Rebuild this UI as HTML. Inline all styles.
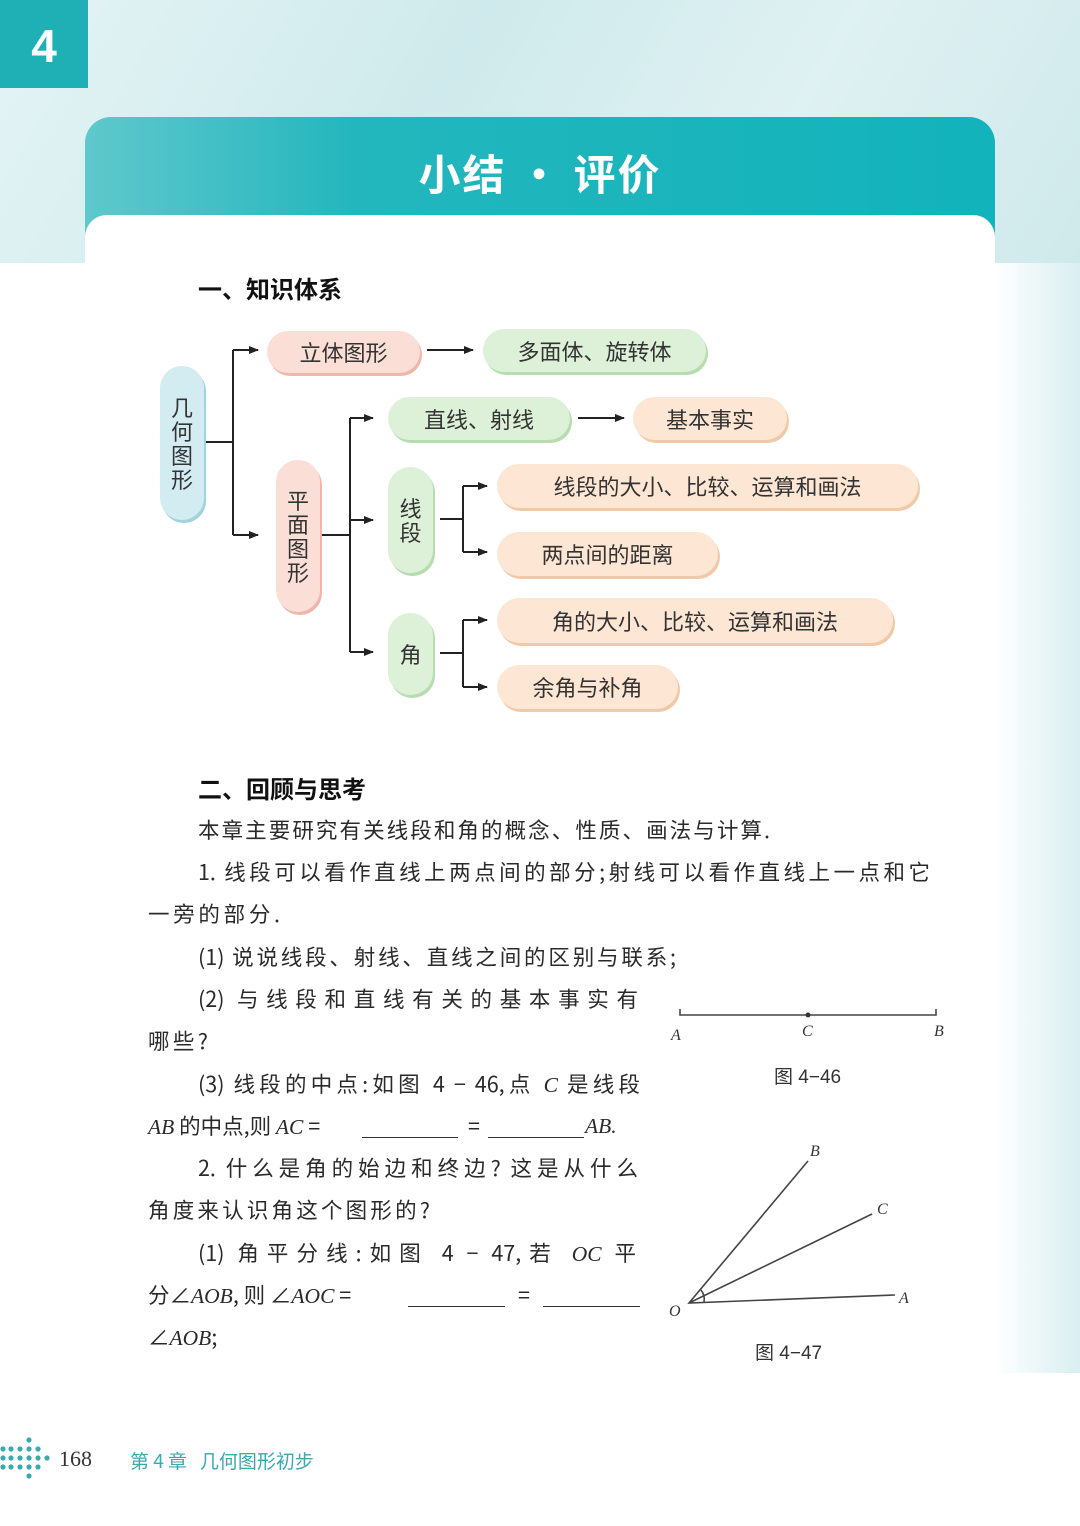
<!DOCTYPE html>
<html><head><meta charset="utf-8">
<style>
*{margin:0;padding:0;box-sizing:border-box}
body{width:1080px;height:1526px;position:relative;background:#fff;overflow:hidden;font-family:"Liberation Sans","Noto Sans CJK SC",sans-serif;color:#2a2a2a}
.a{position:absolute;white-space:nowrap}
.bg{position:absolute;left:0;top:0;width:1080px;height:263px;background:linear-gradient(120deg,#e4f4f5 0%,#cfeaec 40%,#dff1f2 70%,#cfe9eb 100%)}
.ch{position:absolute;left:0;top:0;width:88px;height:88px;background:#1fb0b5;color:#fff;font-size:46px;font-weight:bold;text-align:center;line-height:92px}
.band{position:absolute;left:85px;top:117px;width:910px;height:150px;border-radius:26px 26px 0 0;background:linear-gradient(90deg,#5fc8cc 0%,#23b6bd 30%,#12b3bb 100%)}
.card{position:absolute;left:85px;top:215px;width:910px;height:60px;border-radius:22px 22px 0 0;background:#fff}
.title{position:absolute;left:85px;width:910px;top:142px;text-align:center;color:#fff;font-size:42px;font-weight:bold;font-family:"Noto Sans CJK SC",sans-serif;letter-spacing:2px}
.h{font-size:24px;font-weight:bold;font-family:"Noto Sans CJK SC",sans-serif;color:#111}
.n{position:absolute;border-radius:24px;font-size:22px;font-family:"Noto Sans CJK SC",sans-serif;color:#333;display:flex;align-items:center;justify-content:center;text-align:center;line-height:24px}
.pk{background:#fbded6;box-shadow:2px 3px 0 #efb7aa}
.gr{background:#ddf0d8;box-shadow:2px 3px 0 #b6dcb0}
.pe{background:#fde6d3;box-shadow:2px 3px 0 #f2c9a7}
.bl{background:#d3ecf2;box-shadow:2px 3px 0 #9fd3e0}
.t{position:absolute;font-size:21.5px;font-family:"Noto Sans CJK SC",sans-serif;color:#2a2a2a;white-space:nowrap;text-align:justify;text-align-last:justify;height:30px;line-height:30px}
.i{font-family:"Liberation Serif",serif;font-style:italic}
.bk{position:absolute;border-bottom:1.3px solid #333;height:1px}
</style></head><body>
<div class="bg"></div>
<div style="position:absolute;left:995px;top:263px;width:85px;height:1110px;background:linear-gradient(90deg,#fff 0%,#e8f5f6 60%,#d9eff1 100%)"></div>
<div class="ch">4</div>
<div class="band"></div>
<div class="card"></div>
<div class="title">小结 · 评价</div>

<div class="a h" style="left:198px;top:270px">一、知识体系</div>

<svg class="a" style="left:0;top:0" width="1080" height="760">
<defs><marker id="ar" markerWidth="10" markerHeight="8" refX="9" refY="4" orient="auto" markerUnits="userSpaceOnUse"><path d="M0,0 L10,4 L0,8 z" fill="#222"/></marker></defs>
<g stroke="#222" stroke-width="2" fill="none">
<path d="M204 442H233M233 350V535"/>
<path d="M233 350H258" marker-end="url(#ar)"/>
<path d="M233 535H258" marker-end="url(#ar)"/>
<path d="M427 350H473" marker-end="url(#ar)"/>
<path d="M320 535H350M350 418V652"/>
<path d="M350 418H373" marker-end="url(#ar)"/>
<path d="M350 520H373" marker-end="url(#ar)"/>
<path d="M350 652H373" marker-end="url(#ar)"/>
<path d="M578 418H624" marker-end="url(#ar)"/>
<path d="M440 519H463M463 486V552"/>
<path d="M463 486H487" marker-end="url(#ar)"/>
<path d="M463 552H487" marker-end="url(#ar)"/>
<path d="M440 653H463M463 620V687"/>
<path d="M463 620H487" marker-end="url(#ar)"/>
<path d="M463 687H487" marker-end="url(#ar)"/>
</g></svg>

<div class="n bl" style="left:160px;top:366px;width:44px;height:154px">几<br>何<br>图<br>形</div>
<div class="n pk" style="left:267px;top:331px;width:153px;height:42px">立体图形</div>
<div class="n gr" style="left:483px;top:329px;width:223px;height:43px">多面体、旋转体</div>
<div class="n gr" style="left:388px;top:397px;width:182px;height:43px">直线、射线</div>
<div class="n pe" style="left:633px;top:397px;width:154px;height:43px">基本事实</div>
<div class="n pk" style="left:276px;top:460px;width:44px;height:152px">平<br>面<br>图<br>形</div>
<div class="n gr" style="left:388px;top:467px;width:45px;height:106px">线<br>段</div>
<div class="n pe" style="left:497px;top:464px;width:421px;height:44px">线段的大小、比较、运算和画法</div>
<div class="n pe" style="left:497px;top:532px;width:221px;height:44px">两点间的距离</div>
<div class="n gr" style="left:388px;top:613px;width:45px;height:82px">角</div>
<div class="n pe" style="left:497px;top:598px;width:396px;height:45px">角的大小、比较、运算和画法</div>
<div class="n pe" style="left:497px;top:665px;width:181px;height:44px">余角与补角</div>

<div class="a h" style="left:198px;top:770px">二、回顾与思考</div>

<div class="t" style="left:198px;top:815px;width:572px">本章主要研究有关线段和角的概念、性质、画法与计算.</div>
<div class="t" style="left:198px;top:857px;width:732px">1. 线段可以看作直线上两点间的部分;射线可以看作直线上一点和它</div>
<div class="t" style="left:148px;top:899px;width:132px">一旁的部分.</div>
<div class="t" style="left:198px;top:942px;width:478px">(1) 说说线段、射线、直线之间的区别与联系;</div>
<div class="t" style="left:198px;top:984px;width:440px">(2) 与线段和直线有关的基本事实有</div>
<div class="t" style="left:148px;top:1026px;width:60px">哪些?</div>
<div class="t" style="left:198px;top:1069px;width:442px">(3) 线段的中点:如图 4 − 46,点 <span class="i">C</span> 是线段</div>
<div class="t" style="left:148px;top:1111px;text-align-last:auto"><span class="i">AB</span> 的中点,则 <span class="i">AC</span> =</div>
<div class="bk" style="left:362px;top:1137px;width:96px"></div>
<div class="t" style="left:468px;top:1111px">=</div>
<div class="bk" style="left:488px;top:1137px;width:96px"></div>
<div class="t i" style="left:585px;top:1111px">AB.</div>
<div class="t" style="left:198px;top:1153px;width:440px">2. 什么是角的始边和终边? 这是从什么</div>
<div class="t" style="left:148px;top:1195px;width:282px">角度来认识角这个图形的?</div>
<div class="t" style="left:198px;top:1238px;width:438px">(1) 角平分线:如图 4 − 47,若 <span class="i">OC</span> 平</div>
<div class="t" style="left:148px;top:1280px;text-align-last:auto">分∠<span class="i">AOB</span>, 则 ∠<span class="i">AOC</span> =</div>
<div class="bk" style="left:408px;top:1306px;width:97px"></div>
<div class="t" style="left:518px;top:1280px">=</div>
<div class="bk" style="left:543px;top:1306px;width:97px"></div>
<div class="t" style="left:148px;top:1322px">∠<span class="i">AOB</span>;</div>

<svg class="a" style="left:0;top:0" width="1080" height="1526" font-family="Liberation Serif,serif" font-style="italic" font-size="16" fill="#333">
<g stroke="#444" stroke-width="1.6" fill="none">
<path d="M680 1009V1015H936V1009"/>
<path d="M895 1295L689 1303L808 1161M689 1303L872 1214"/>
<path d="M704 1302A15 15 0 0 0 701 1290"/>
</g>
<circle cx="808" cy="1015" r="2.5" fill="#333"/>
<text x="671" y="1040">A</text><text x="802" y="1036">C</text><text x="934" y="1036">B</text>
<text x="669" y="1316">O</text><text x="899" y="1303">A</text><text x="877" y="1214">C</text><text x="810" y="1156">B</text>
<text x="774" y="1083" font-style="normal" font-size="19" font-family="Liberation Sans,Noto Sans CJK SC,sans-serif">图 4−46</text>
<text x="755" y="1359" font-style="normal" font-size="19" font-family="Liberation Sans,Noto Sans CJK SC,sans-serif">图 4−47</text>
</svg>

<svg class="a" style="left:0;top:1436px" width="52" height="46">
<g fill="#3aa9b0">
<circle cx="29" cy="4" r="2.6"/>
<circle cx="3" cy="13" r="2.6"/><circle cx="11" cy="13" r="2.6"/><circle cx="20" cy="13" r="2.6"/><circle cx="29" cy="13" r="2.6"/><circle cx="38" cy="13" r="2.6"/>
<circle cx="3" cy="22" r="2.6"/><circle cx="11" cy="22" r="2.6"/><circle cx="20" cy="22" r="2.6"/><circle cx="29" cy="22" r="2.6"/><circle cx="38" cy="22" r="2.6"/><circle cx="47" cy="22" r="2.6"/>
<circle cx="3" cy="31" r="2.6"/><circle cx="11" cy="31" r="2.6"/><circle cx="20" cy="31" r="2.6"/><circle cx="29" cy="31" r="2.6"/><circle cx="38" cy="31" r="2.6"/>
<circle cx="29" cy="40" r="2.6"/>
</g></svg>
<div class="a" style="left:59px;top:1446px;font-family:'Liberation Serif',serif;font-size:22px;color:#333">168</div>
<div class="a" style="left:130px;top:1447px;font-size:19px;color:#3aa9b0;font-family:'Noto Sans CJK SC',sans-serif">第 4 章&nbsp;&nbsp;&nbsp;几何图形初步</div>
</body></html>
